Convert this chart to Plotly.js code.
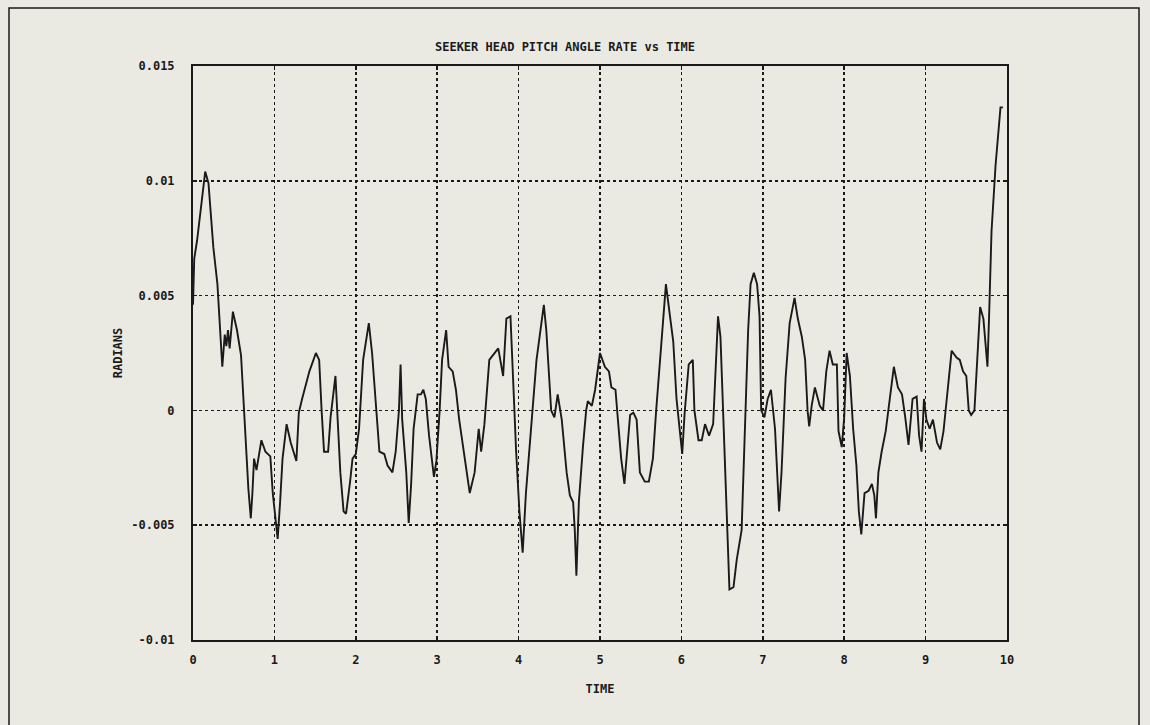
<!DOCTYPE html>
<html>
<head>
<meta charset="utf-8">
<script src="https://cdn.plot.ly/plotly-3.0.1.min.js"></script>
<style>
  html, body { margin: 0; padding: 0; background: #ebeae2; }
  #chart { width: 1150px; height: 725px; }
</style>
</head>
<body>
<div id="chart"></div>
<script>
// ---- data ----
const timeVals = [
  0.00, 0.015, 0.05, 0.09, 0.15, 0.19, 0.25, 0.30, 0.34, 0.36, 0.39, 0.41, 0.43, 0.45, 0.49, 0.54, 0.59, 0.62, 0.66, 0.68,
  0.71, 0.73, 0.75, 0.78, 0.80, 0.84, 0.89, 0.95, 0.98, 1.01, 1.04, 1.07, 1.10, 1.15, 1.20, 1.27, 1.30, 1.34, 1.43, 1.51,
  1.55, 1.58, 1.61, 1.66, 1.69, 1.75, 1.77, 1.81, 1.85, 1.88, 1.93, 1.96, 2.00, 2.04, 2.09, 2.16, 2.20, 2.25, 2.29, 2.35,
  2.39, 2.45, 2.49, 2.53, 2.55, 2.57, 2.62, 2.65, 2.68, 2.71, 2.76, 2.80, 2.83, 2.86, 2.90, 2.96, 2.99, 3.03, 3.06, 3.11,
  3.14, 3.19, 3.23, 3.27, 3.33, 3.40, 3.46, 3.51, 3.54, 3.58, 3.64, 3.70, 3.75, 3.81, 3.85, 3.90, 3.93, 3.97, 4.01, 4.05,
  4.09, 4.16, 4.22, 4.31, 4.34, 4.40, 4.44, 4.48, 4.53, 4.59, 4.63, 4.67, 4.69, 4.71, 4.74, 4.79, 4.83, 4.85, 4.90, 4.94,
  5.00, 5.06, 5.11, 5.14, 5.19, 5.22, 5.26, 5.30, 5.34, 5.37, 5.41, 5.45, 5.49, 5.55, 5.60, 5.65, 5.69, 5.75, 5.81, 5.86,
  5.90, 5.94, 5.98, 6.01, 6.04, 6.09, 6.14, 6.16, 6.21, 6.25, 6.29, 6.34, 6.39, 6.45, 6.48, 6.51, 6.55, 6.59, 6.64, 6.68,
  6.74, 6.78, 6.82, 6.85, 6.89, 6.93, 6.96, 6.98, 7.02, 7.06, 7.10, 7.15, 7.20, 7.23, 7.28, 7.33, 7.39, 7.43, 7.48, 7.52,
  7.55, 7.57, 7.60, 7.64, 7.70, 7.74, 7.78, 7.82, 7.86, 7.91, 7.93, 7.97, 8.00, 8.03, 8.07, 8.11, 8.15, 8.18, 8.21, 8.25,
  8.30, 8.34, 8.37, 8.39, 8.42, 8.46, 8.51, 8.56, 8.61, 8.66, 8.71, 8.75, 8.79, 8.84, 8.89, 8.92, 8.95, 8.98, 9.01, 9.05,
  9.09, 9.14, 9.18, 9.22, 9.26, 9.32, 9.38, 9.42, 9.46, 9.50, 9.53, 9.56, 9.60, 9.63, 9.67, 9.71, 9.73, 9.76, 9.78, 9.81,
  9.86, 9.89, 9.92, 9.95
];
const rateVals = [
  0.0046, 0.0066, 0.0074, 0.0087, 0.0104, 0.0099, 0.0071, 0.0055, 0.0032, 0.0019, 0.0033, 0.0028, 0.0035, 0.0027, 0.0043, 0.0035, 0.0024, 0.0002, -0.0021, -0.0034,
  -0.0047, -0.0036, -0.0021, -0.0026, -0.0021, -0.0013, -0.0018, -0.0020, -0.0036, -0.0047, -0.0056, -0.0040, -0.0021, -0.0006, -0.0014, -0.0022, -0.0001, 0.0005, 0.0017, 0.0025,
  0.0022, 0.0000, -0.0018, -0.0018, -0.0003, 0.0015, 0.0000, -0.0027, -0.0044, -0.0045, -0.0031, -0.0021, -0.0019, -0.0008, 0.0022, 0.0038, 0.0025, 0.0000, -0.0018, -0.0019,
  -0.0024, -0.0027, -0.0018, 0.0000, 0.0020, -0.0004, -0.0027, -0.0049, -0.0032, -0.0008, 0.0007, 0.0007, 0.0009, 0.0005, -0.0011, -0.0029, -0.0022, 0.0000, 0.0022, 0.0035,
  0.0019, 0.0017, 0.0009, -0.0004, -0.0019, -0.0036, -0.0027, -0.0008, -0.0018, -0.0006, 0.0022, 0.0025, 0.0027, 0.0015, 0.0040, 0.0041, 0.0012, -0.0018, -0.0044, -0.0062,
  -0.0036, -0.0004, 0.0022, 0.0046, 0.0035, 0.0000, -0.0003, 0.0007, -0.0004, -0.0027, -0.0037, -0.0040, -0.0052, -0.0072, -0.0040, -0.0016, 0.0000, 0.0004, 0.0002, 0.0009,
  0.0025, 0.0019, 0.0017, 0.0010, 0.0009, -0.0004, -0.0021, -0.0032, -0.0014, -0.0002, -0.0001, -0.0004, -0.0027, -0.0031, -0.0031, -0.0021, 0.0000, 0.0028, 0.0055, 0.0041,
  0.0030, 0.0005, -0.0008, -0.0019, -0.0001, 0.0020, 0.0022, 0.0000, -0.0013, -0.0013, -0.0006, -0.0011, -0.0006, 0.0041, 0.0032, 0.0000, -0.0036, -0.0078, -0.0077, -0.0065,
  -0.0052, -0.0011, 0.0035, 0.0055, 0.0060, 0.0055, 0.0041, 0.0000, -0.0003, 0.0005, 0.0009, -0.0008, -0.0044, -0.0027, 0.0014, 0.0038, 0.0049, 0.0040, 0.0032, 0.0022,
  0.0000, -0.0007, 0.0002, 0.0010, 0.0002, 0.0000, 0.0017, 0.0026, 0.0020, 0.0020, -0.0009, -0.0016, -0.0003, 0.0025, 0.0015, -0.0008, -0.0024, -0.0044, -0.0054, -0.0036,
  -0.0035, -0.0032, -0.0037, -0.0047, -0.0027, -0.0018, -0.0009, 0.0005, 0.0019, 0.0010, 0.0007, -0.0003, -0.0015, 0.0005, 0.0006, -0.0011, -0.0018, 0.0005, -0.0004, -0.0008,
  -0.0004, -0.0014, -0.0017, -0.0009, 0.0005, 0.0026, 0.0023, 0.0022, 0.0017, 0.0015, 0.0000, -0.0002, 0.0000, 0.0022, 0.0045, 0.0040, 0.0032, 0.0019, 0.0041, 0.0078,
  0.0107, 0.0120, 0.0132, 0.0132
];
const xTickVals = [0, 1, 2, 3, 4, 5, 6, 7, 8, 9, 10];
const xTickText = ["0", "1", "2", "3", "4", "5", "6", "7", "8", "9", "10"];
const yTickVals = [-0.01, -0.005, 0, 0.005, 0.01, 0.015];
const yTickText = ["-0.01", "-0.005", "0", "0.005", "0.01", "0.015"];
const chartTitle = "SEEKER HEAD PITCH ANGLE RATE vs TIME";
const xTitle = "TIME";
const yTitle = "RADIANS";

// ---- styling ----
const bg = "#ebeae2";
const ink = "#1a1a1a";
const txtFont = { family: "DejaVu Sans Mono, Liberation Mono, monospace", size: 12, color: ink, weight: "bold" };

const W = 1150, H = 725;
const M = { l: 193, r: 143, t: 66, b: 85 };
const pw = W - M.l - M.r, ph = H - M.t - M.b;
// outer frame of the page (in paper coords); bottom edge runs off the page
const fx0 = (9 - M.l) / pw, fx1 = (1139 - M.l) / pw;
const fyTop = (H - M.b - 8) / ph, fyBot = (H - M.b - 740) / ph;

const trace = {
  x: timeVals, y: rateVals, type: "scatter", mode: "lines",
  line: { color: ink, width: 1.9 }, hoverinfo: "x+y"
};

const axisCommon = {
  showline: true, mirror: "ticks", linecolor: ink, linewidth: 2,
  showgrid: true, gridcolor: ink, gridwidth: 1.7, griddash: "dot",
  zeroline: false, ticks: "inside", ticklen: 4, tickwidth: 1.5, tickcolor: ink,
  tickfont: txtFont, tickmode: "array"
};

const layout = {
  width: W, height: H,
  margin: M,
  paper_bgcolor: bg, plot_bgcolor: bg,
  showlegend: false,
  title: { text: chartTitle, font: txtFont, x: 565 / W, xref: "container", xanchor: "center",
           y: 1 - 47 / H, yref: "container", yanchor: "middle" },
  xaxis: Object.assign({}, axisCommon, {
    range: [0, 10], tickvals: xTickVals, ticktext: xTickText, ticklabelstandoff: 8,
    title: { text: xTitle, font: txtFont, standoff: 18 }
  }),
  yaxis: Object.assign({}, axisCommon, {
    range: [-0.01, 0.015], tickvals: yTickVals, ticktext: yTickText, ticklabelstandoff: 14,
    title: { text: yTitle, font: txtFont, standoff: 6 }
  }),
  shapes: [
    { type: "rect", xref: "paper", yref: "paper", x0: fx0, x1: fx1, y0: fyBot, y1: fyTop,
      line: { color: ink, width: 1.5 }, fillcolor: "rgba(0,0,0,0)", layer: "below" }
  ]
};

Plotly.newPlot("chart", [trace], layout, { displayModeBar: false, staticPlot: true });
</script>
</body>
</html>
